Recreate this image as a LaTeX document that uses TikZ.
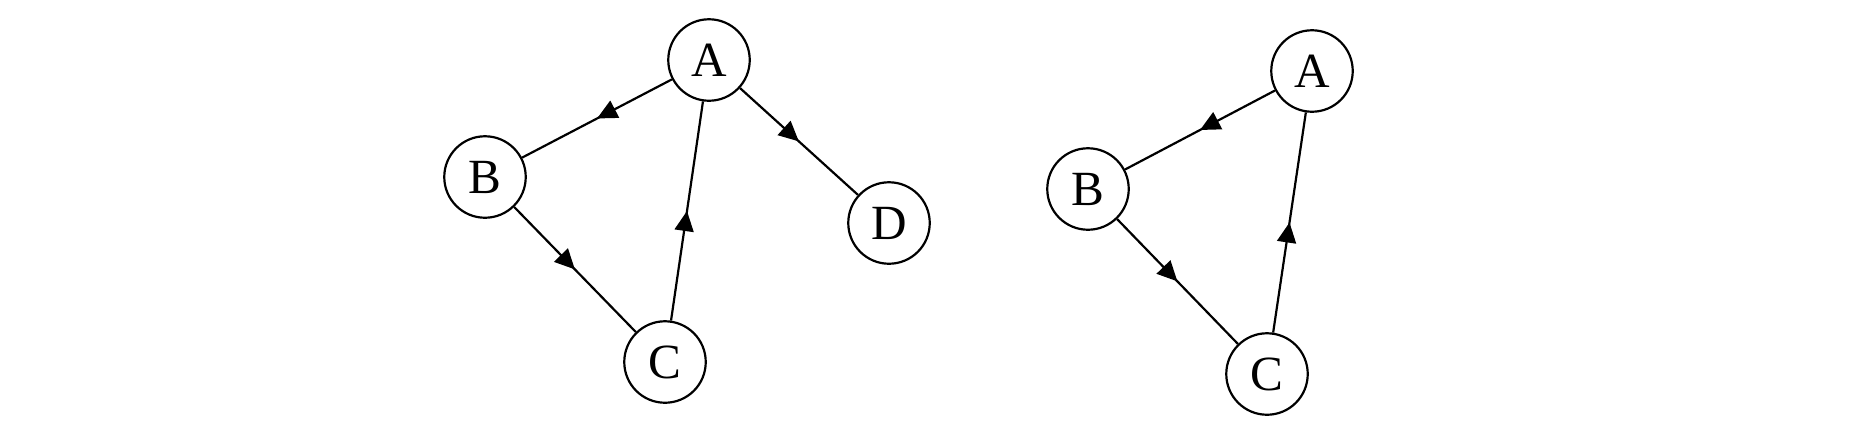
\documentclass[tikz,border=0pt]{standalone}
\usepackage{fontspec}
\setmainfont{Liberation Serif}
\usetikzlibrary{arrows.meta}
\usetikzlibrary{decorations.markings}

\tikzset{
 vertex/.style={draw, circle, line width=1.25pt, minimum size=1.63cm, inner sep=0, font=\fontsize{28}{28}\selectfont},
 midarrow/.style={line width=1.25pt, postaction={decorate},
  decoration={markings, mark=at position .5 with {\arrow{Triangle[length=.4cm,width=.38cm]}}}}
}

\begin{document}
\begin{tikzpicture} [x=.02cm, y=-.02cm]
\useasboundingbox (0,0) rectangle (1852,430);
% left graph
\node[vertex] (A) at (709,60) {A};
\node[vertex] (B) at (485,177) {B};
\node[vertex] (C) at (665,362) {C};
\node[vertex] (D) at (889,223) {D};
% right graph
\node[vertex] (rA) at (1312,71) {A};
\node[vertex] (rB) at (1088,189) {B};
\node[vertex] (rC) at (1267,374) {C};
\foreach \s/\t in {A/B, B/C, C/A, A/D, rA/rB, rB/rC, rC/rA} {
 \draw[midarrow] (\s) -- (\t);
}
\end{tikzpicture}
\end{document}
